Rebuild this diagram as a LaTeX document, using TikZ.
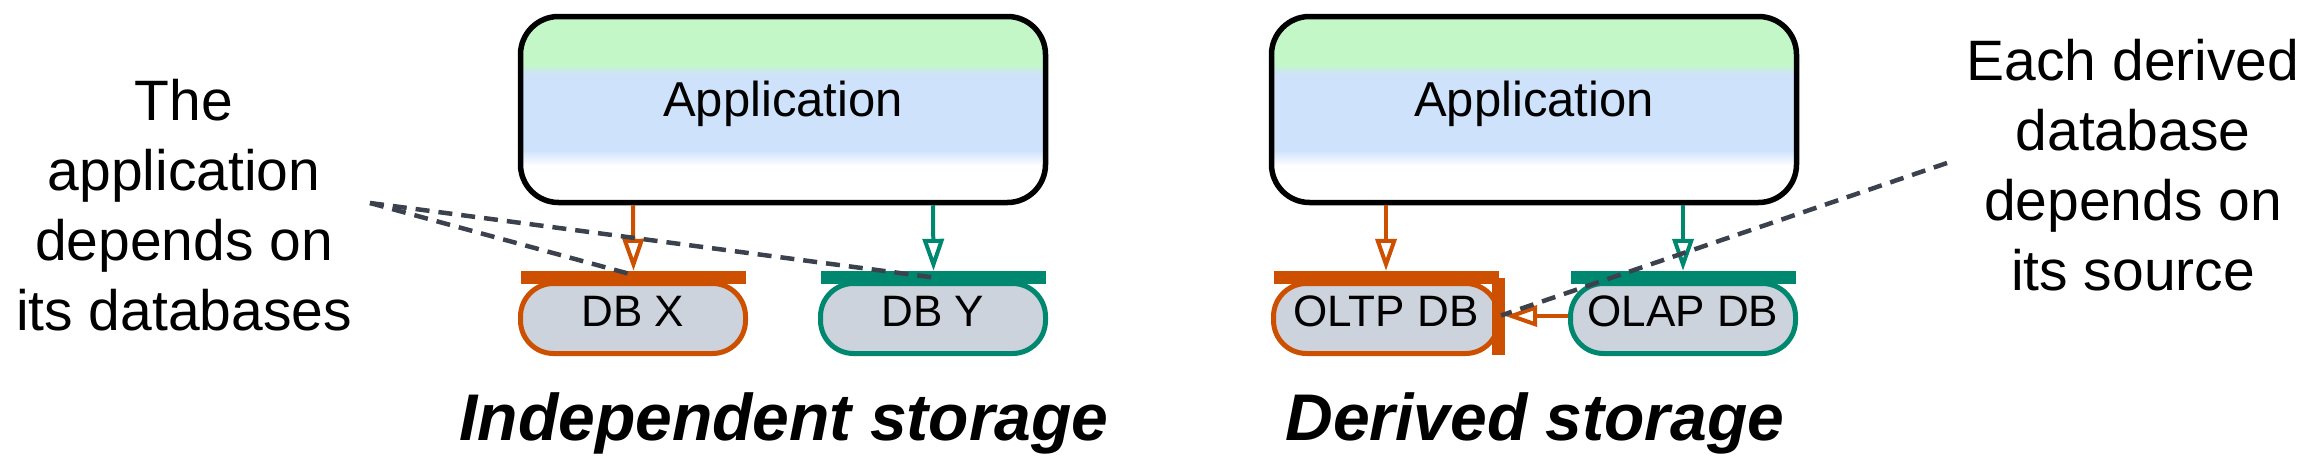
\documentclass[tikz,border=0pt]{standalone}
\usepackage{fontspec}
\setmainfont{Liberation Sans}
\usetikzlibrary{arrows.meta}
\definecolor{appgreen}{RGB}{195,247,200}
\definecolor{appblue}{RGB}{207,226,252}
\definecolor{dbgray}{RGB}{205,211,220}
\definecolor{dborange}{RGB}{204,80,0}
\definecolor{dbteal}{RGB}{0,135,112}
\definecolor{notegray}{RGB}{60,66,77}
\begin{document}
\begin{tikzpicture}[x=1pt,y=-1pt,
  appbox/.style={draw=black, line width=5.5pt, rounded corners=38pt, fill=white,
    minimum width=525pt, minimum height=186pt, inner sep=0pt,
    text height=35pt, text depth=22pt,
    font=\fontsize{49}{58}\selectfont,
    path picture={
      \fill[appgreen, sharp corners] (path picture bounding box.north west) rectangle ([yshift=-48pt]path picture bounding box.north east);
      \shade[top color=appgreen, bottom color=appblue, sharp corners] ([yshift=-48pt]path picture bounding box.north west) rectangle ([yshift=-58pt]path picture bounding box.north east);
      \fill[appblue, sharp corners] ([yshift=-58pt]path picture bounding box.north west) rectangle ([yshift=-134pt]path picture bounding box.north east);
      \shade[top color=appblue, bottom color=white, sharp corners] ([yshift=-134pt]path picture bounding box.north west) rectangle ([yshift=-149pt]path picture bounding box.north east);
    }},
  dbbox/.style={line width=5pt, rounded corners=33pt, fill=dbgray,
    minimum width=225pt, minimum height=70pt, inner sep=0pt,
    text height=30pt, text depth=15pt,
    font=\fontsize{44}{52}\selectfont},
  dbbar/.style={minimum width=225pt, minimum height=13pt, inner sep=0pt},
  dep/.style={line width=4pt, -{Triangle[length=32pt, width=21pt, fill=white]}},
  notelink/.style={draw=notegray, line width=4.5pt, dash pattern=on 14pt off 9pt},
  notetext/.style={align=center, inner sep=0pt, font=\fontsize{57}{70}\selectfont},
  paneltitle/.style={inner sep=0pt, font=\fontsize{66}{79}\selectfont\bfseries\itshape}
]
\useasboundingbox (0,0) rectangle (2316,463);

% applications
\node[appbox] (appL) at (783,109.5) {Application};
\node[appbox] (appR) at (1534,109.5) {Application};

% databases
\node[dbbox, draw=dborange] (dbx) at (633,318.5) {DB X};
\node[dbbox, draw=dbteal] (dby) at (933,318.5) {DB Y};
\node[dbbox, draw=dborange] (oltp) at (1386,318.5) {OLTP DB};
\node[dbbox, draw=dbteal] (olap) at (1683,318.5) {OLAP DB};

\node[dbbar, fill=dborange] (dbxbar) at (633.5,277.5) {};
\node[dbbar, fill=dbteal] (dbybar) at (933.5,277.5) {};
\node[dbbar, fill=dborange] (oltpbar) at (1386,277.5) {};
\node[dbbar, fill=dbteal] (olapbar) at (1683,277.5) {};
\node[fill=dborange, minimum width=13pt, minimum height=77pt, inner sep=0pt] (oltpside) at (1498.5,316.5) {};

% dependencies
\draw[dep, draw=dborange] (appL.south -| dbx.center) -- (dbxbar.north);
\draw[dep, draw=dbteal] (appL.south -| dby.center) -- (dbybar.north);
\draw[dep, draw=dborange] (appR.south -| oltp.center) -- (oltpbar.north);
\draw[dep, draw=dbteal] (appR.south -| olap.center) -- (olapbar.north);
\draw[dep, draw=dborange] ([yshift=2.5pt]olap.west) -- ([yshift=2.5pt]olap.west -| oltpside.east);

% annotations
\node[notetext, anchor=base] (annL) at (184,330) {The\\application\\depends on\\its databases};
\node[notetext, anchor=base] (annR) at (2133,290) {Each derived\\database\\depends on\\its source};
\coordinate (noteL) at (370,203);
\coordinate (noteR) at (1947,163);
\draw[notelink] (noteL) -- ([yshift=2.5pt]dbxbar.center);
\draw[notelink] (noteL) -- (dbybar.center);
\draw[notelink] (noteR) -- ([yshift=3pt]oltp.east);

% titles
\node[paneltitle, anchor=base] (titleL) at (784,440) {Independent storage};
\node[paneltitle, anchor=base] (titleR) at (1535,440) {Derived storage};
\end{tikzpicture}
\end{document}
